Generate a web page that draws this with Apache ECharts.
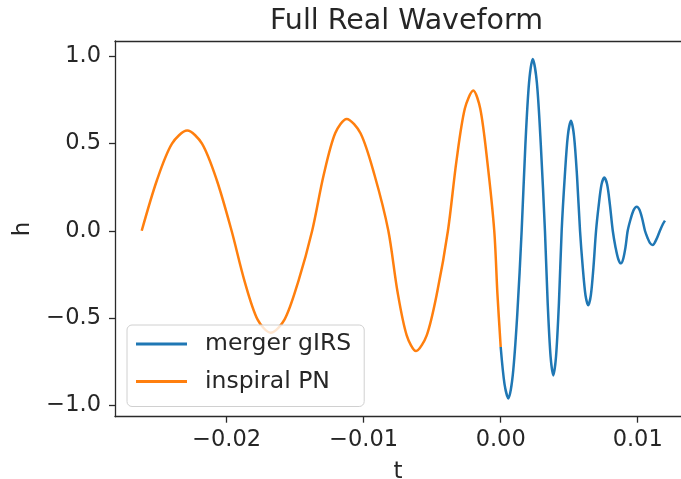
<!DOCTYPE html>
<html>
<head>
<meta charset="utf-8">
<script src="https://cdn.jsdelivr.net/npm/echarts@6/dist/echarts.min.js"></script>
<style>html,body{margin:0;padding:0;background:#fff;}#c{width:681px;height:479px;}</style>
</head>
<body>
<div id="c"></div>
<script>
// ---- data ----
const titleText = 'Full Real Waveform';
const xName = 't';
const yName = 'h';
const seriesNames = ['merger gIRS', 'inspiral PN'];

const mergerT = [0.0, 0.00028, 0.00056, 0.00088, 0.00121, 0.00153, 0.00180, 0.00207, 0.00234, 0.00264, 0.00293, 0.00323,
  0.00343, 0.00364, 0.00384, 0.00404, 0.00425, 0.00445, 0.00468, 0.00490, 0.00513, 0.00535, 0.00557, 0.00579,
  0.00599, 0.00619, 0.00639, 0.00658, 0.00677, 0.00696, 0.00716, 0.00736, 0.00756, 0.00777, 0.00797, 0.00818,
  0.00838, 0.00858, 0.00878, 0.00894, 0.00911, 0.00927, 0.00949, 0.00971, 0.00993, 0.01013, 0.01033, 0.01053,
  0.01072, 0.01090, 0.01109, 0.01139, 0.01162, 0.01185, 0.01199];
const mergerH = [-0.667, -0.88, -0.962, -0.83, -0.48, 0.0, 0.49, 0.85, 0.986, 0.85, 0.49, 0.0,
  -0.415, -0.72, -0.830, -0.72, -0.415, 0.0, 0.315, 0.545, 0.631, 0.545, 0.315, 0.0,
  -0.21, -0.37, -0.427, -0.37, -0.21, 0.0, 0.15, 0.265, 0.305, 0.265, 0.15, 0.0,
  -0.094, -0.162, -0.187, -0.162, -0.094, 0.0, 0.069, 0.12, 0.138, 0.12, 0.069, 0.0,
  -0.041, -0.071, -0.082, -0.045, 0.0, 0.04, 0.058];

const inspiralT = [-0.0262, -0.02509, -0.02399, -0.02288, -0.02180, -0.02072, -0.01964,
  -0.01869, -0.01774, -0.01679, -0.01578, -0.01477, -0.01376,
  -0.01292, -0.01208, -0.01124, -0.01023, -0.00921, -0.0082,
  -0.00753, -0.00686, -0.00618, -0.00540, -0.00463, -0.00385,
  -0.00323, -0.00262, -0.0020, -0.00149, -0.00098, -0.00047, -0.00024, 0.0];
const inspiralH = [0.0, 0.29, 0.50, 0.575, 0.50, 0.29, 0.0,
  -0.29, -0.51, -0.585, -0.51, -0.29, 0.0,
  0.32, 0.56, 0.642, 0.56, 0.32, 0.0,
  -0.35, -0.60, -0.690, -0.60, -0.35, 0.0,
  0.40, 0.70, 0.805, 0.70, 0.40, 0.0, -0.36, -0.667];

const xTickValues = [-0.02, -0.01, 0.0, 0.01];
const xTickLabels = ['\u22120.02', '\u22120.01', '0.00', '0.01'];
const yTickValues = [-1.0, -0.5, 0.0, 0.5, 1.0];
const yTickLabels = ['\u22121.0', '\u22120.5', '0.0', '0.5', '1.0'];

const xMin = -0.02815, xMax = 0.01316;
const yMin = -1.067, yMax = 1.089;

// ---- build ----
const zip = (a, b) => a.map((v, i) => [v, b[i]]);
const fmt = (vals, labels) => v => {
  const i = vals.findIndex(x => Math.abs(x - v) < 1e-9);
  return i >= 0 ? labels[i] : '';
};
const FONT = 'DejaVu Sans';
const TXT = '#262626';
const AX = '#2a2a2a';

const chart = echarts.init(document.getElementById('c'), null, {renderer: 'canvas'});
chart.setOption({
  animation: false,
  backgroundColor: '#ffffff',
  title: {
    text: titleText,
    left: 265, top: 2,
    textStyle: {fontFamily: FONT, fontSize: 28.5, fontWeight: 'normal', color: TXT}
  },
  legend: {
    orient: 'vertical',
    left: 127, top: 325,
    data: seriesNames,
    icon: 'rect',
    itemWidth: 51, itemHeight: 3,
    itemGap: 13.5,
    padding: [7, 13, 13, 9],
    backgroundColor: 'rgba(255,255,255,0.8)',
    borderColor: '#d0d0d0', borderWidth: 1, borderRadius: 5,
    textStyle: {fontFamily: FONT, fontSize: 23.5, color: TXT, padding: [0, 0, 0, 13]}
  },
  grid: {left: 115, right: 0, top: 41, bottom: 62.3, containLabel: false, outerBoundsMode: 'none'},
  xAxis: [{
    type: 'value', min: xMin, max: xMax, position: 'bottom',
    name: xName, nameLocation: 'middle', nameGap: 44,
    nameTextStyle: {fontFamily: FONT, fontSize: 23, color: TXT},
    axisLine: {show: true, onZero: false, lineStyle: {color: AX, width: 1.3}},
    axisTick: {show: true, length: 6, customValues: xTickValues, lineStyle: {color: AX, width: 1.3}},
    axisLabel: {customValues: xTickValues, formatter: fmt(xTickValues, xTickLabels), margin: 12,
      fontFamily: FONT, fontSize: 22.5, color: TXT},
    splitLine: {show: false}
  }, {
    type: 'value', min: xMin, max: xMax, position: 'top',
    axisLine: {show: true, onZero: false, lineStyle: {color: AX, width: 1.3}},
    axisTick: {show: false}, axisLabel: {show: false}, splitLine: {show: false}
  }],
  yAxis: {
    type: 'value', min: yMin, max: yMax,
    name: yName, nameLocation: 'middle', nameGap: 80,
    nameTextStyle: {fontFamily: FONT, fontSize: 23, color: TXT},
    axisLine: {show: true, onZero: false, lineStyle: {color: AX, width: 1.3}},
    axisTick: {show: true, length: 6, customValues: yTickValues, lineStyle: {color: AX, width: 1.3}},
    axisLabel: {customValues: yTickValues, formatter: fmt(yTickValues, yTickLabels), margin: 14,
      fontFamily: FONT, fontSize: 22.5, color: TXT},
    splitLine: {show: false}
  },
  series: [{
    name: seriesNames[0], type: 'line', xAxisIndex: 0,
    data: zip(mergerT, mergerH), smooth: 0.3, showSymbol: false,
    lineStyle: {color: '#1f77b4', width: 2.5}, itemStyle: {color: '#1f77b4'}
  }, {
    name: seriesNames[1], type: 'line', xAxisIndex: 0,
    data: zip(inspiralT, inspiralH), smooth: 0.3, showSymbol: false,
    lineStyle: {color: '#ff7f0e', width: 2.5}, itemStyle: {color: '#ff7f0e'}
  }]
});
</script>
</body>
</html>
